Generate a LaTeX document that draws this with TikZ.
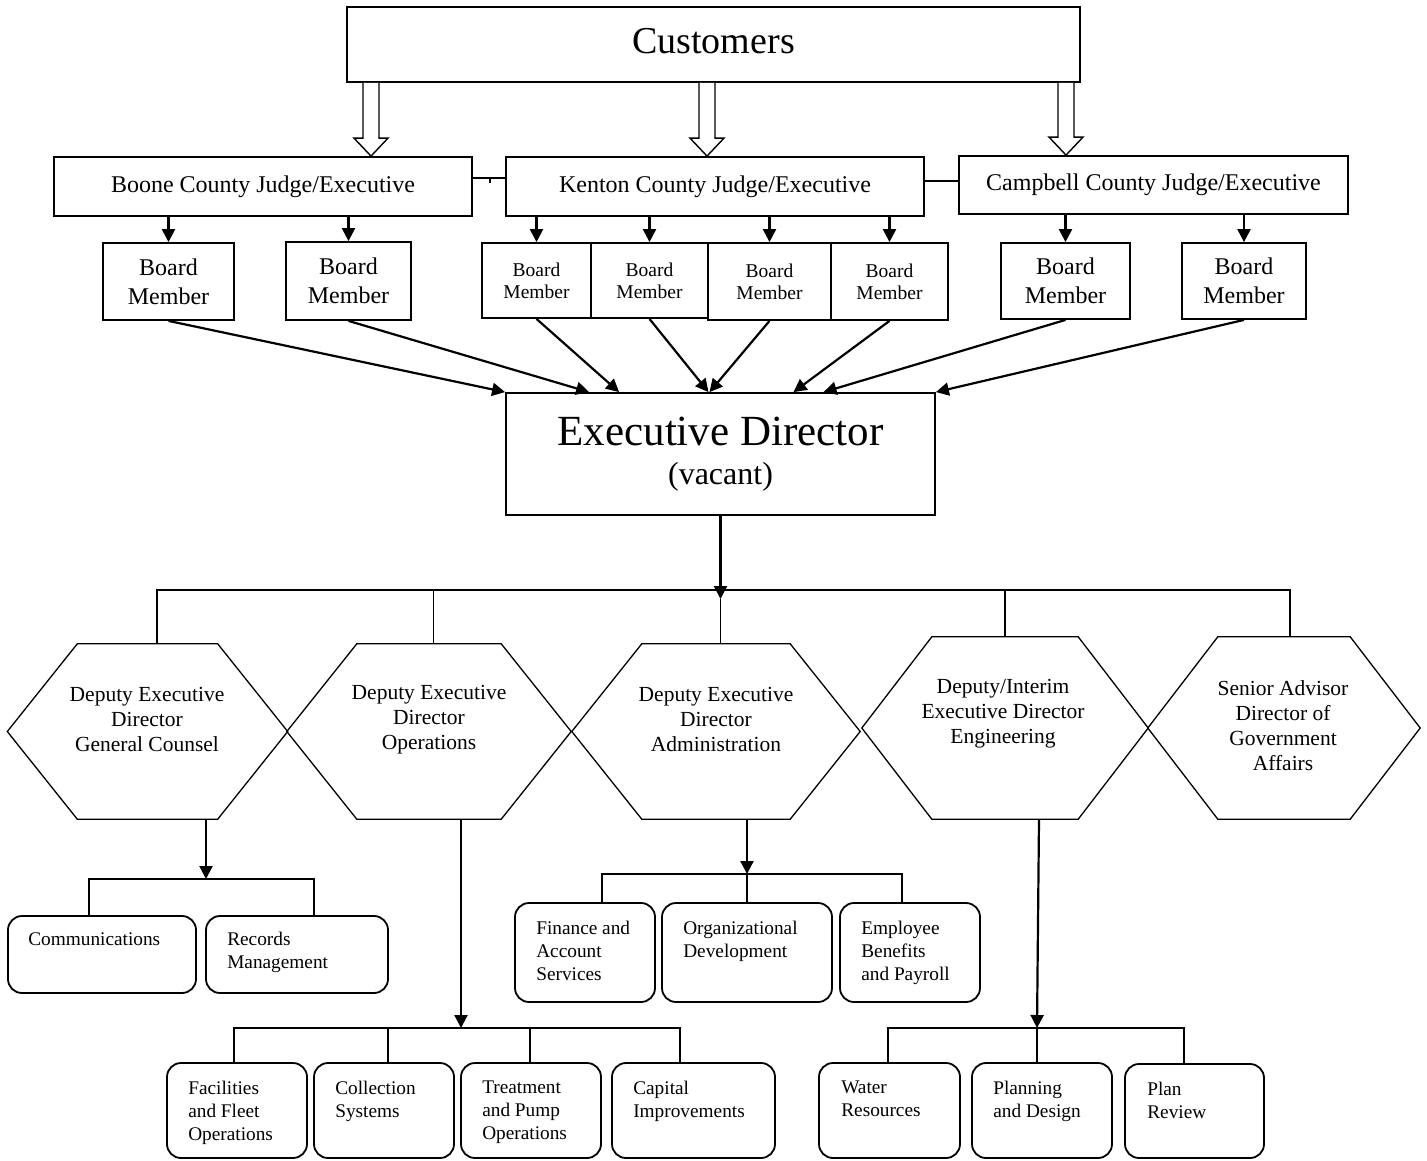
\documentclass[tikz,border=0pt]{standalone}
\usepackage{fontspec}
\setmainfont{Liberation Serif}
\usetikzlibrary{positioning,calc,arrows.meta}

% open block arrow from the customers box down to a county box
\newcommand{\hollowarrow}[3]{%
  \draw[hollow] (#1-8,0 |- #2.south) -- ($(#1-8,0 |- #3.north)+(0,-18)$)
    -- ($(#1-17,0 |- #3.north)+(0,-18)$) -- (#1,0 |- #3.north)
    -- ($(#1+17,0 |- #3.north)+(0,-18)$) -- ($(#1+8,0 |- #3.north)+(0,-18)$)
    -- (#1+8,0 |- #2.south);}

\begin{document}
\begin{tikzpicture}[
  x=1pt, y=-1pt,
  box/.style={draw, line width=1.8pt, inner sep=0pt, align=center},
  county/.style={box, minimum height=59pt, font=\fontsize{24}{29}\selectfont},
  board/.style={box, minimum height=77pt, font=\fontsize{24}{29}\selectfont},
  sboard/.style={box, minimum height=76pt, font=\fontsize{19.5}{22}\selectfont},
  hexa/.style={inner sep=0pt, minimum height=175pt},
  hexline/.style={line width=1.3pt},
  hextext/.style={align=center, inner sep=0pt, font=\fontsize{21.5}{25}\selectfont},
  unit/.style={draw, rounded corners=14pt, line width=1.8pt, inner sep=0pt},
  unittext/.style={anchor=north west, align=left, inner sep=0pt, font=\fontsize{19.3}{23}\selectfont},
  arr/.style={-{Triangle[length=13pt,width=13pt]}, line width=2.2pt},
  link/.style={line width=1.8pt},
  hollow/.style={line width=1.4pt, fill=white},
]
  \useasboundingbox (0,0) rectangle (1427,1160);

  \node[box, minimum width=733pt, minimum height=75pt, text depth=8pt, font=\fontsize{38}{44}\selectfont] (cust) at (713.5,44.5) {Customers};

  \node[county, minimum width=418pt] (boone) at (263,186.5) {Boone County Judge/Executive};
  \node[county, minimum width=418pt] (kenton) at (715,186.5) {Kenton County Judge/Executive};
  \node[county, minimum width=389pt, minimum height=58pt] (campbell) at (1153.5,185) {Campbell County Judge/Executive};

  \hollowarrow{371}{cust}{boone}
  \hollowarrow{707}{cust}{kenton}
  \hollowarrow{1066}{cust}{campbell}

  \draw[link] ([yshift=8.5pt]boone.east) -- ([yshift=8.5pt]kenton.west);
  \draw[line width=1.2pt] ($([yshift=8.5pt]boone.east)+(17,0)$) -- ++(0,5);
  \draw[link] ([yshift=5.5pt]kenton.east) -- ([yshift=4pt]campbell.west);

  % board members
  \node[board, minimum width=131pt] (bm1) at (168.5,281.5) {Board\\Member};
  \node[board, minimum width=125pt, minimum height=78pt] (bm2) at (348.5,281) {Board\\Member};
  \node[sboard, minimum width=109pt, minimum height=75pt] (km1) at (536.5,280.5) {Board\\Member};
  \node[sboard, minimum width=117pt, minimum height=75pt] (km2) at (649.5,280.5) {Board\\Member};
  \node[sboard, minimum width=123pt, minimum height=77pt] (km3) at (769.5,281.5) {Board\\Member};
  \node[sboard, minimum width=117pt, minimum height=77pt] (km4) at (889.5,281.5) {Board\\Member};
  \node[board, minimum width=129pt, minimum height=76pt] (cm1) at (1065.5,281) {Board\\Member};
  \node[board, minimum width=124pt, minimum height=76pt] (cm2) at (1244,281) {Board\\Member};

  \foreach \b in {bm1,bm2} \draw[arr] (\b.north |- boone.south) -- (\b.north);
  \foreach \b in {km1,km2,km3,km4} \draw[arr] (\b.north |- kenton.south) -- (\b.north);
  \foreach \b in {cm1,cm2} \draw[arr] (\b.north |- campbell.south) -- (\b.north);

  \node[box, minimum width=429pt, minimum height=122pt, font=\fontsize{43}{39}\selectfont] (ED) at (720.5,454)
    {Executive Director\\{\fontsize{32}{39}\selectfont(vacant)}};

  \draw[arr] (bm1.south) -- (ED.north west);
  \draw[arr] (bm2.south) -- ([xshift=84pt]ED.north west);
  \draw[arr] (km1.south) -- ([xshift=114pt]ED.north west);
  \draw[arr] (km2.south) -- ([xshift=-12pt]ED.north);
  \draw[arr] (km3.south) -- ([xshift=-11pt]ED.north);
  \draw[arr] (km4.south) -- ([xshift=73pt]ED.north);
  \draw[arr] (cm1.south) -- ([xshift=103pt]ED.north);
  \draw[arr] (cm2.south) -- (ED.north east);

  % deputies
  \node[hexa, minimum width=140pt] (g1) at (147.5,731.5) {};
  \node[hexa, minimum width=144pt] (g2) at (429,731.5) {};
  \node[hexa, minimum width=148pt] (g3) at (716,731.5) {};
  \node[hexa, minimum width=146pt, minimum height=182pt] (g4) at (1005,728) {};
  \node[hexa, minimum width=132pt, minimum height=182pt] (g5) at (1284,728) {};
  \foreach \h in {g1,g2,g3,g4,g5}
    \draw[hexline] (\h.north west) -- (\h.north east) -- ([xshift=70pt]\h.east) -- (\h.south east)
      -- (\h.south west) -- ([xshift=-70pt]\h.west) -- cycle;

  \node[hextext] (g1t) at (147,719.5) {Deputy Executive\\Director\\General Counsel};
  \node[hextext] (g2t) at (429,719.5) {Deputy Executive\\Director\\Operations};
  \node[hextext] (g3t) at (716,719.5) {Deputy Executive\\Director\\Administration};
  \node[hextext] (g4t) at (1003,713.5) {Deputy/Interim\\Executive Director\\Engineering};
  \node[hextext] (g5t) at (1283,725.5) {Senior Advisor\\Director of\\Government\\Affairs};

  \coordinate (bus) at (720.5,590);
  \coordinate (edtip) at (720.5,599);
  \draw[arr] (ED) -- (edtip);
  \draw[link] ([xshift=9.5pt]g1.north) |- (bus) -| ([xshift=6pt]g5.north);
  \draw[link] ([xshift=4.5pt]g2.north) |- (bus);
  \draw[link] (g4.north) |- (bus);
  \draw[link] (edtip) -- (ED.south |- g3.north);

  % general counsel units
  \coordinate (b1) at (206,879);
  \node[unit, minimum width=188pt, minimum height=77pt] (comm) at (102,954.5) {};
  \node[unit, minimum width=182pt, minimum height=77pt] (rec) at (297,954.5) {};
  \node[unittext] (commt) at ([xshift=21pt,yshift=-17pt]comm.north west) {Communications};
  \node[unittext] (rect) at ([xshift=22pt,yshift=-17pt]rec.north west) {Records\\Management};
  \draw[arr] (b1 |- g1.south) -- (b1);
  \draw[link] ([xshift=-13pt]comm.north) |- (b1) -| ([xshift=17pt]rec.north);

  % operations units
  \coordinate (b2) at (461,1028);
  \node[unit, minimum width=140pt, minimum height=95pt] (fac) at (237,1110.5) {};
  \node[unit, minimum width=140pt, minimum height=95pt] (col) at (384,1110.5) {};
  \node[unit, minimum width=140pt, minimum height=95pt] (trt) at (531,1110.5) {};
  \node[unit, minimum width=163pt, minimum height=95pt] (cap) at (693.5,1110.5) {};
  \node[unittext] (fact) at ([xshift=22pt,yshift=-19pt]fac.north west) {Facilities\\and Fleet\\Operations};
  \node[unittext] (colt) at ([xshift=22pt,yshift=-19pt]col.north west) {Collection\\Systems};
  \node[unittext] (trtt) at ([xshift=22pt,yshift=-19pt]trt.north west) {Treatment\\and Pump\\Operations};
  \node[unittext] (capt) at ([xshift=22pt,yshift=-19pt]cap.north west) {Capital\\Improvements};
  \draw[arr] (b2 |- g2.south) -- (b2);
  \draw[link] ([xshift=-3pt]fac.north) |- (b2) -| ([xshift=-13.5pt]cap.north);
  \draw[link] ([xshift=4pt]col.north) |- (b2);
  \draw[link] ([xshift=-1pt]trt.north) |- (b2);

  % administration units
  \coordinate (b3) at (747,874);
  \node[unit, minimum width=140pt, minimum height=99pt] (fin) at (585,952.5) {};
  \node[unit, minimum width=170pt, minimum height=99pt] (org) at (747,952.5) {};
  \node[unit, minimum width=140pt, minimum height=99pt] (emp) at (910,952.5) {};
  \node[unittext] (fint) at ([xshift=22pt,yshift=-19pt]fin.north west) {Finance and\\Account\\Services};
  \node[unittext] (orgt) at ([xshift=22pt,yshift=-19pt]org.north west) {Organizational\\Development};
  \node[unittext] (empt) at ([xshift=22pt,yshift=-19pt]emp.north west) {Employee\\Benefits\\and Payroll};
  \draw[arr] (b3 |- g3.south) -- (b3);
  \draw[link] ([xshift=17pt]fin.north) |- (b3) -| ([xshift=-8pt]emp.north);
  \draw[link] (org.north) -- (b3);

  % engineering units
  \coordinate (b4) at (1037,1028);
  \node[unit, minimum width=141pt, minimum height=95pt] (wat) at (889.5,1110.5) {};
  \node[unit, minimum width=140pt, minimum height=95pt] (pln) at (1042,1110.5) {};
  \node[unit, minimum width=139pt, minimum height=94pt] (rev) at (1194.5,1111) {};
  \node[unittext] (watt) at ([xshift=23pt,yshift=-19pt]wat.north west) {Water\\Resources};
  \node[unittext] (plnt) at ([xshift=22pt,yshift=-19pt]pln.north west) {Planning\\and Design};
  \node[unittext] (revt) at ([xshift=23pt,yshift=-19pt]rev.north west) {Plan\\Review};
  \draw[arr] ([xshift=34pt]g4.south) -- (b4);
  \draw[link] ([xshift=-1.5pt]wat.north) |- (b4) -| ([xshift=-10.5pt]rev.north);
  \draw[link] ([xshift=-5pt]pln.north) |- (b4);
\end{tikzpicture}
\end{document}
